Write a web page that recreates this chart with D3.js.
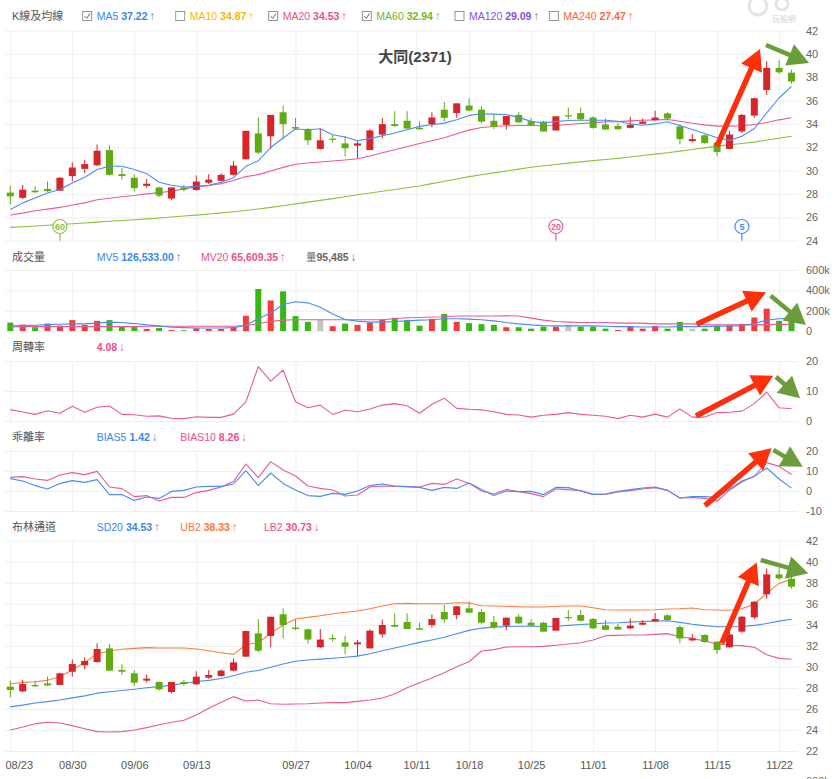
<!DOCTYPE html>
<html>
<head>
<meta charset="utf-8">
<script src="https://cdn.jsdelivr.net/npm/d3@7"></script>
<style>
body { margin: 0; background: #fff; }
text { font-family: "Liberation Sans", Arial, "Noto Sans CJK TC", sans-serif; }
</style>
</head>
<body>
<div id="chart"></div>
<script>
//trading days
var dates = ["08/23","08/24","08/25","08/26","08/27","08/30","08/31","09/01","09/02","09/03",
    "09/06","09/07","09/08","09/09","09/10","09/13","09/14","09/15","09/16","09/17",
    "09/22","09/23","09/24","09/27","09/28","09/29","09/30","10/01","10/04","10/05",
    "10/06","10/07","10/08","10/12","10/13","10/14","10/15","10/18","10/19","10/20",
    "10/21","10/22","10/25","10/26","10/27","10/28","10/29","11/01","11/02","11/03",
    "11/04","11/05","11/08","11/09","11/10","11/11","11/12","11/15","11/16","11/17",
    "11/18","11/19","11/22","11/23"];

//axis ticks (10/11 is a holiday, sits between 10/08 and 10/12)
var tickLabels = ["08/23","08/30","09/06","09/13","09/27","10/04","10/11","10/18","10/25","11/01","11/08","11/15","11/22"];
var tickPos = [0, 5, 10, 15, 23, 28, 32.75, 37, 42, 47, 52, 57, 62];

//ohlc
var open  = [28.12,27.67,28.28,28.43,28.28,29.54,30.15,30.46,31.76,29.70,29.39,28.69,28.56,27.61,28.56,28.34,28.97,29.13,29.64,30.97,
    33.19,32.94,35.00,33.73,33.57,31.86,32.74,32.33,32.14,31.76,33.09,33.98,34.27,33.67,33.98,35.22,34.93,35.57,35.22,34.27,
    33.92,34.77,34.20,34.20,33.44,34.74,34.93,34.55,33.95,33.82,33.66,34.01,34.33,34.90,33.79,32.52,33.03,32.40,31.86,33.35,
    34.71,36.90,38.80,38.39];
var high  = [28.69,28.78,28.69,29.07,29.45,30.72,30.91,32.24,32.17,30.24,29.67,29.29,28.62,28.56,28.78,29.58,29.70,29.77,30.81,33.41,
    34.55,34.77,35.57,34.52,33.63,33.60,33.09,32.97,32.55,33.57,34.52,35.09,35.09,34.20,35.00,35.88,35.76,36.20,35.50,34.84,
    34.68,35.00,34.52,34.27,34.65,35.41,35.41,34.65,34.46,34.08,34.61,34.46,35.12,35.00,33.95,33.13,33.09,32.43,33.41,34.84,
    36.26,39.37,39.46,38.64];
var low   = [27.10,27.58,28.09,28.18,28.28,29.07,29.77,30.40,29.58,29.23,28.21,28.50,27.74,27.48,28.21,28.28,28.85,29.07,29.58,30.97,
    31.41,31.86,32.71,33.51,32.21,31.79,32.40,31.22,31.06,31.76,32.78,33.76,33.60,33.51,33.73,34.20,34.52,35.09,34.04,33.57,
    33.51,34.08,33.82,33.35,33.44,34.39,34.30,33.60,33.51,33.51,33.60,33.98,34.30,34.39,32.24,32.43,32.30,31.22,31.83,33.22,
    34.52,36.48,38.26,37.44];
var close = [27.80,28.37,28.15,28.24,29.39,30.27,30.56,31.70,29.64,29.54,28.50,28.88,27.86,28.56,28.37,29.07,29.23,29.64,30.43,33.41,
    31.54,34.77,33.98,33.60,32.60,32.60,32.65,31.92,32.33,33.44,33.98,33.82,33.60,33.54,34.55,34.52,35.76,35.15,34.20,33.76,
    34.68,34.14,33.92,33.35,34.65,34.65,34.39,33.66,33.52,33.55,33.92,34.20,34.55,34.46,32.70,32.70,32.36,31.60,33.09,34.77,
    36.20,38.80,38.42,37.63];

//moving averages
var ma5  = [26.67,27.24,27.66,28.09,28.38,28.95,29.43,30.09,30.37,30.37,30.09,29.74,29.00,28.75,28.60,28.66,28.75,29.00,29.40,30.37,
    30.85,31.98,32.79,33.56,33.50,33.59,33.08,32.88,32.56,32.74,32.99,33.22,33.50,33.79,33.93,34.07,34.36,34.73,34.87,34.84,
    34.81,34.56,34.22,34.08,34.20,34.29,34.32,34.32,34.32,34.23,34.00,33.89,34.00,34.18,33.86,33.52,33.18,32.81,32.59,32.95,
    33.61,34.94,36.22,37.22];
var ma20 = [26.20,26.36,26.56,26.70,26.85,27.05,27.24,27.50,27.64,27.76,27.87,28.01,28.12,28.24,28.44,28.61,28.72,28.89,29.15,29.49,
    29.66,29.97,30.28,30.54,30.65,30.74,30.82,30.91,31.02,31.25,31.53,31.79,32.05,32.33,32.56,32.81,33.15,33.47,33.69,33.78,
    33.84,33.86,33.86,33.84,33.86,33.95,34.03,34.09,34.18,34.20,34.26,34.32,34.35,34.38,34.23,34.06,33.92,33.81,33.81,33.84,
    33.95,34.12,34.35,34.53];
var ma60 = [25.14,25.20,25.26,25.32,25.38,25.45,25.52,25.59,25.66,25.73,25.80,25.87,25.95,26.03,26.11,26.19,26.28,26.38,26.48,26.59,
    26.72,26.85,26.99,27.15,27.30,27.45,27.60,27.76,27.93,28.08,28.23,28.39,28.54,28.69,28.89,29.09,29.29,29.49,29.65,29.81,
    29.97,30.13,30.29,30.42,30.53,30.64,30.75,30.86,30.96,31.05,31.17,31.29,31.41,31.53,31.67,31.81,31.95,32.10,32.21,32.33,
    32.44,32.62,32.78,32.94];

//volume (shares) and its averages
var volume = [83000,63000,37000,73000,53000,107000,60000,100000,107000,40000,43000,20000,30000,10000,7000,27000,20000,20000,40000,150000,
    413000,300000,390000,147000,90000,110000,47000,73000,60000,83000,113000,130000,110000,53000,120000,167000,90000,77000,67000,60000,
    37000,37000,23000,43000,43000,60000,43000,43000,23000,10000,40000,23000,50000,23000,90000,23000,23000,53000,57000,70000,
    133000,220000,100000,95485];
var mv5  = [50000,53000,57000,63000,67000,70000,70000,77000,87000,83000,73000,60000,50000,37000,33000,30000,30000,30000,33000,57000,
    120000,177000,260000,287000,277000,233000,167000,113000,97000,87000,87000,93000,100000,107000,110000,120000,120000,117000,110000,100000,
    83000,70000,60000,53000,50000,50000,50000,50000,47000,43000,43000,40000,40000,40000,43000,43000,43000,47000,47000,53000,
    73000,107000,120000,126533];
var mv20 = [40000,43000,43000,43000,43000,43000,43000,43000,43000,43000,43000,47000,47000,47000,47000,47000,47000,47000,47000,53000,
    73000,93000,107000,110000,110000,110000,110000,110000,110000,110000,110000,120000,130000,133000,137000,140000,147000,147000,147000,147000,
    150000,147000,127000,107000,93000,87000,83000,83000,83000,77000,77000,77000,70000,70000,70000,70000,60000,60000,60000,60000,
    60000,63000,67000,65609];

//turnover rate
var turnover = [3.8,3.0,2.2,3.4,2.6,4.9,2.9,4.6,5.0,2.2,2.1,1.6,1.7,0.9,0.8,1.4,1.2,1.2,2.3,6.4,
    18.1,13.3,17.0,6.4,4.4,5.3,2.2,3.6,3.1,4.0,5.3,5.8,5.1,2.6,5.6,7.6,4.2,3.9,3.7,3.1,
    2.2,2.0,1.3,1.9,2.2,2.8,2.2,1.9,1.6,0.8,1.9,1.3,2.3,1.3,4.0,1.3,1.3,2.8,2.9,3.3,
    5.8,9.6,4.4,4.08];

//bias
var bias5  = [6.2,5.0,2.7,1.0,3.7,5.2,4.3,5.7,-1.8,-1.8,-4.7,-3.0,-3.7,-0.2,0.3,2.0,2.3,2.3,3.5,10.2,
    2.7,9.0,3.8,0.5,-2.3,-2.7,-1.2,-1.7,0,2.7,3.5,2.5,2.2,1.8,0.3,1.8,1.3,4.0,0.8,-2.2,
    0,-0.3,-0.2,-1.8,1.8,1.7,0,-1.7,-1.5,-0.2,0.7,1.5,2.0,0.3,-3.5,-2.8,-2.8,-3.2,1.0,5.0,
    7.3,11.5,6.0,1.42];
var bias10 = [6.8,7.2,6.0,5.3,8.0,9.2,8.2,9.8,2.0,1.2,-2.8,-2.3,-5.0,-3.2,-3.2,-0.8,0.3,2.0,4.7,13.5,
    6.7,14.7,10.5,7.5,2.5,1.3,0.5,-2.5,-2.0,2.0,2.5,2.3,2.2,2.0,3.8,3.3,6.0,3.8,0,-1.5,
    0.8,-0.3,-1.3,-2.8,1.0,0.7,0.2,-1.7,-1.7,-0.5,0.2,1.0,1.7,0.3,-3.5,-3.2,-3.7,-5.0,0.3,4.5,
    7.5,14.2,12.3,8.26];

//bollinger bands (middle band = ma20)
var ub2 = [28.37,28.53,28.59,28.72,29.07,29.70,30.43,31.22,31.51,31.67,31.76,31.83,31.79,31.79,31.79,31.70,31.54,31.35,31.19,32.11,
    32.30,33.19,33.98,34.55,34.71,34.87,35.06,35.19,35.31,35.53,35.79,36.01,36.04,36.01,36.01,36.01,36.10,36.07,35.82,35.79,
    35.76,35.72,35.69,35.69,35.76,35.79,35.79,35.63,35.44,35.41,35.41,35.41,35.44,35.50,35.53,35.60,35.44,35.41,35.38,35.53,
    35.98,36.99,37.94,38.33];
var lb2 = [24.00,24.28,24.60,24.73,24.66,24.41,24.12,23.84,23.81,23.84,24.00,24.22,24.50,24.73,24.92,25.42,26.06,26.63,27.17,26.76,
    26.85,26.50,26.44,26.47,26.50,26.56,26.60,26.60,26.72,26.85,27.04,27.42,28.02,28.50,28.94,29.45,30.02,30.49,31.51,31.64,
    31.89,31.92,31.92,31.95,32.05,32.17,32.30,32.55,32.97,33.00,33.03,33.03,33.09,33.16,32.87,32.71,32.46,32.17,32.05,32.02,
    31.86,31.16,30.81,30.73];

//ma window markers (day index, label)
var markerIdx = [4, 44, 59];
var markerText = ["60", "20", "5"];

//hand drawn arrows, [index, value] start and end per panel
var arrowsMain = [[56.97, 32.05, 60.46, 40.42], [60.94, 40.76, 64.41, 39.22]];
var arrowsVol  = [[55.35, 65900, 60.94, 380700], [61.32, 347000, 64.17, 59000]];
var arrowsTurn = [[55.30, 1.67, 61.53, 15.1], [61.75, 14.77, 63.69, 7.57]];
var arrowsBias = [[56.02, -7.35, 61.40, 21.35], [61.53, 20.5, 63.90, 12.15]];
var arrowsBoll = [[57.37, 32.23, 60.19, 39.94], [60.52, 40.16, 64.35, 38.9]];

//measurements
var width = 836;
var height = 779;
var plotLeft = 5;
var plotRight = 798;

//colors
var blue = "#4a8cf5";
var pink = "#ec5a95";
var green60 = "#8cc23a";
var orange = "#ff7c3e";
var candleUp = "#d6262c";
var candleDown = "#60ab10";
var volUp = "#f23d3d";
var volDown = "#35b812";
var volFlat = "#c4c4c4";
var arrowRed = "#ff2f0c";
var arrowGreen = "#6b9d3a";

var svg = d3.select("#chart").append("svg")
    .attr("width", width)
    .attr("height", height);

var x = d3.scaleLinear().domain([0, 63]).range([10.3, 791.5]);

var yMain = d3.scaleLinear().domain([24, 42]).range([240.7, 30.5]);
var yVol  = d3.scaleLinear().domain([0, 600000]).range([331, 270]);
var yTurn = d3.scaleLinear().domain([0, 20]).range([421, 361]);
var yBias = d3.scaleLinear().domain([-10, 20]).range([511, 451]);
var yBoll = d3.scaleLinear().domain([22, 42]).range([751, 540.7]);

drawGrid(yMain, d3.range(24, 43, 2), function (d) { return d; }, false);
drawGrid(yVol, [0, 200000, 400000, 600000], function (d) { return d == 0 ? "0" : (d / 1000) + "k"; }, false);
drawGrid(yTurn, [0, 10, 20], function (d) { return d; }, false);
drawGrid(yBias, [-10, 0, 10, 20], function (d) { return d; }, false);
drawGrid(yBoll, d3.range(22, 43, 2), function (d) { return d; }, true);

// next panel label peeking at the bottom
svg.append("text")
    .attr("x", 806).attr("y", 785)
    .style("font-size", "11px").attr("fill", "#777")
    .text("600k");

function drawGrid (y, ticks, fmt, showDates) {
    var r = y.range();
    var yAxis = d3.axisRight(y)
        .tickValues(ticks)
        .tickFormat(fmt)
        .tickSizeInner(-(plotRight - plotLeft))
        .tickSizeOuter(0)
        .tickPadding(8);
    var g = svg.append("g")
        .attr("transform", "translate(" + plotRight + ",0)")
        .call(yAxis);
    g.select(".domain").remove();
    g.selectAll("line").attr("stroke", "#efefef");
    g.selectAll("text").style("font-size", "11px").attr("fill", "#666").attr("font-family", null);

    var xAxis = d3.axisBottom(x)
        .tickValues(tickPos)
        .tickFormat(function (d, i) { return showDates ? tickLabels[i] : ""; })
        .tickSizeInner(-(r[0] - r[1]))
        .tickSizeOuter(0)
        .tickPadding(10);
    var gx = svg.append("g")
        .attr("transform", "translate(0," + r[0] + ")")
        .call(xAxis);
    gx.select(".domain").remove();
    gx.selectAll("line").attr("stroke", "#efefef");
    gx.selectAll("text").style("font-size", "11px").attr("fill", "#555").attr("font-family", null);
    // keep the first date inside the page
    gx.selectAll("text").filter(function (d, i) { return i == 0; })
        .attr("text-anchor", "start")
        .attr("x", plotLeft - x(0));
}

function drawLine (values, y, color, w) {
    var line = d3.line()
        .x(function (d, i) { return x(i); })
        .y(function (d) { return y(d); });
    svg.append("path")
        .datum(values)
        .attr("fill", "none")
        .attr("stroke", color)
        .attr("stroke-width", w || 1.1)
        .attr("stroke-linejoin", "round")
        .attr("d", line);
}

function drawCandles (y) {
    var g = svg.append("g");
    var idx = d3.range(open.length);
    g.selectAll(".wick")
        .data(idx)
        .enter().append("line")
        .attr("x1", function (i) { return x(i); })
        .attr("x2", function (i) { return x(i); })
        .attr("y1", function (i) { return y(high[i]); })
        .attr("y2", function (i) { return y(low[i]); })
        .attr("stroke", function (i) { return close[i] >= open[i] ? candleUp : candleDown; })
        .attr("stroke-width", 1);
    g.selectAll(".body")
        .data(idx)
        .enter().append("rect")
        .attr("x", function (i) { return x(i) - 3.5; })
        .attr("width", 7)
        .attr("y", function (i) { return y(Math.max(open[i], close[i])); })
        .attr("height", function (i) { return Math.max(1.2, Math.abs(y(open[i]) - y(close[i]))); })
        .attr("fill", function (i) { return close[i] >= open[i] ? candleUp : candleDown; });
}

function arrowPath (x1, y1, x2, y2, shaft, headLen, headW) {
    var dx = x2 - x1, dy = y2 - y1;
    var len = Math.sqrt(dx * dx + dy * dy);
    var ux = dx / len, uy = dy / len;
    var px = -uy, py = ux;
    var bx = x2 - ux * headLen, by = y2 - uy * headLen;
    var pts = [
        [x1 + px * shaft / 2, y1 + py * shaft / 2],
        [bx + px * shaft / 2, by + py * shaft / 2],
        [bx + px * headW / 2, by + py * headW / 2],
        [x2, y2],
        [bx - px * headW / 2, by - py * headW / 2],
        [bx - px * shaft / 2, by - py * shaft / 2],
        [x1 - px * shaft / 2, y1 - py * shaft / 2]
    ];
    return "M" + pts.map(function (p) { return p[0].toFixed(1) + "," + p[1].toFixed(1); }).join("L") + "Z";
}

function drawArrows (list, y) {
    list.forEach(function (a, k) {
        svg.append("path")
            .attr("d", arrowPath(x(a[0]), y(a[1]), x(a[2]), y(a[3]), k == 0 ? 5.5 : 4.5, 21, 23))
            .attr("fill", k == 0 ? arrowRed : arrowGreen);
    });
}

// main panel
drawLine(ma60, yMain, green60);
drawLine(ma20, yMain, pink);
drawCandles(yMain);
drawLine(ma5, yMain, blue);

svg.append("text")
    .attr("x", 415).attr("y", 56)
    .attr("text-anchor", "middle")
    .attr("dominant-baseline", "central")
    .style("font-size", "15px").style("font-weight", "bold")
    .attr("fill", "#444")
    .text("大同(2371)");

// ma window markers
var markerColors = [green60, pink, blue];
markerIdx.forEach(function (d, k) {
    var cx = x(d);
    svg.append("line")
        .attr("x1", cx).attr("x2", cx)
        .attr("y1", 233.5).attr("y2", yMain(24))
        .attr("stroke", markerColors[k]).attr("stroke-width", 1.2);
    svg.append("circle")
        .attr("cx", cx).attr("cy", 226.5).attr("r", 7)
        .attr("fill", "#fff")
        .attr("stroke", markerColors[k]).attr("stroke-width", 1.2);
    svg.append("text")
        .attr("x", cx).attr("y", 226.8)
        .attr("text-anchor", "middle").attr("dominant-baseline", "central")
        .style("font-size", "9px").style("font-weight", "bold")
        .attr("fill", markerColors[k])
        .text(markerText[k]);
});

// volume panel
var volG = svg.append("g");
volG.selectAll(".vol")
    .data(volume)
    .enter().append("rect")
    .attr("x", function (d, i) { return x(i) - 3; })
    .attr("width", 6)
    .attr("y", function (d) { return yVol(d); })
    .attr("height", function (d) { return yVol(0) - yVol(d); })
    .attr("fill", function (d, i) {
        var prev = i == 0 ? open[0] : close[i - 1];
        if (close[i] > prev) return volUp;
        if (close[i] < prev) return volDown;
        return volFlat;
    });
drawLine(mv20, yVol, pink);
drawLine(mv5, yVol, blue);

// turnover panel
drawLine(turnover, yTurn, pink);

// bias panel
drawLine(bias10, yBias, pink);
drawLine(bias5, yBias, blue);

// bollinger panel
drawLine(lb2, yBoll, pink);
drawLine(ma20, yBoll, blue);
drawLine(ub2, yBoll, orange);
drawCandles(yBoll);

// annotations
drawArrows(arrowsMain, yMain);
drawArrows(arrowsVol, yVol);
drawArrows(arrowsTurn, yTurn);
drawArrows(arrowsBias, yBias);
drawArrows(arrowsBoll, yBoll);

// legends
var legendFont = "10.5px";

function legendTitle (y, label) {
    svg.append("text")
        .attr("x", 12).attr("y", y)
        .attr("dominant-baseline", "central")
        .style("font-size", "11px")
        .attr("fill", "#555")
        .text(label);
}

function legendItem (xPos, y, name, value, arrow, color) {
    var t = svg.append("text")
        .attr("x", xPos).attr("y", y)
        .attr("dominant-baseline", "central")
        .style("font-size", legendFont)
        .attr("fill", color);
    if (name) t.append("tspan").text(name + " ");
    t.append("tspan").style("font-weight", "bold").text(value);
    t.append("tspan").attr("dx", 2).style("font-weight", "bold").style("font-size", "11.5px").text(arrow);
}

function checkbox (xPos, y, checked) {
    svg.append("rect")
        .attr("x", xPos).attr("y", y - 4.5)
        .attr("width", 9).attr("height", 9)
        .attr("fill", "#fff")
        .attr("stroke", "#8a8a8a").attr("stroke-width", 0.9);
    if (checked) {
        svg.append("path")
            .attr("d", "M" + (xPos + 2) + "," + (y + 0.2) + "L" + (xPos + 4) + "," + (y + 2.4) + "L" + (xPos + 7.3) + "," + (y - 2.6))
            .attr("fill", "none")
            .attr("stroke", "#666").attr("stroke-width", 1);
    }
}

var maNames = ["MA5", "MA10", "MA20", "MA60", "MA120", "MA240"];
var maValues = ["37.22", "34.87", "34.53", "32.94", "29.09", "27.47"];
var maChecked = [true, false, true, true, false, false];
var maColors = ["#3a86f0", "#f7b500", "#ec4f8a", "#78b51c", "#8450e8", "#ff6633"];
var maBoxX = [82.7, 175.7, 268.7, 362.3, 455, 549.3];

legendTitle(16, "K線及均線");
maNames.forEach(function (n, k) {
    checkbox(maBoxX[k], 16, maChecked[k]);
    legendItem(maBoxX[k] + 14, 16, n, maValues[k], "↑", maColors[k]);
});

legendTitle(256.5, "成交量");
legendItem(96.7, 256.5, "MV5", "126,533.00", "↑", "#3a86f0");
legendItem(201, 256.5, "MV20", "65,609.35", "↑", "#ec4f8a");
var q = svg.append("text")
    .attr("x", 306).attr("y", 256.5)
    .attr("dominant-baseline", "central")
    .style("font-size", legendFont)
    .attr("fill", "#666");
q.append("tspan").text("量");
q.append("tspan").style("font-weight", "bold").text("95,485");
q.append("tspan").attr("dx", 2).style("font-weight", "bold").style("font-size", "11.5px").text("↓");

legendTitle(346.5, "周轉率");
legendItem(96.7, 346.5, null, "4.08", "↓", "#ec4f8a");

legendTitle(436.5, "乖離率");
legendItem(96.7, 436.5, "BIAS5", "1.42", "↓", "#3a86f0");
legendItem(180.3, 436.5, "BIAS10", "8.26", "↓", "#ec4f8a");

legendTitle(526.5, "布林通道");
legendItem(96.7, 526.5, "SD20", "34.53", "↑", "#3a86f0");
legendItem(180.3, 526.5, "UB2", "38.33", "↑", "#ff7236");
legendItem(264, 526.5, "LB2", "30.73", "↓", "#ec4f8a");

// faint site watermark
svg.append("circle")
    .attr("cx", 758).attr("cy", 6).attr("r", 9)
    .attr("fill", "none").attr("stroke", "#e4e4e4").attr("stroke-width", 3);
svg.append("circle")
    .attr("cx", 782).attr("cy", 4).attr("r", 6)
    .attr("fill", "none").attr("stroke", "#e4e4e4").attr("stroke-width", 3);
svg.append("text")
    .attr("x", 772).attr("y", 19)
    .attr("dominant-baseline", "central")
    .style("font-size", "8px")
    .attr("fill", "#d4d4d4")
    .text("玩股網");
</script>
</body>
</html>
